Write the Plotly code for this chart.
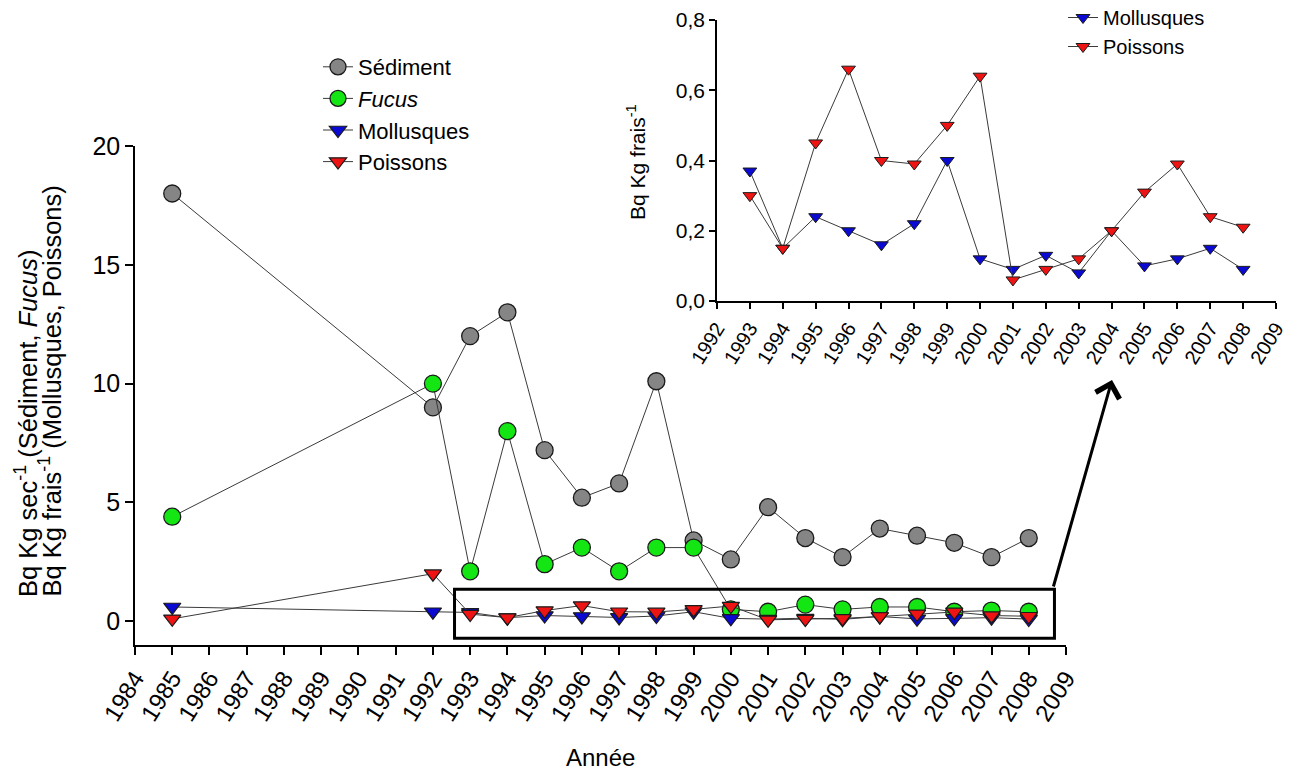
import plotly.graph_objects as go

# ---------------- data ----------------
years_main = [1985, 1992, 1993, 1994, 1995, 1996, 1997, 1998, 1999, 2000,
              2001, 2002, 2003, 2004, 2005, 2006, 2007, 2008]
sediment = [18.0, 9.0, 12.0, 13.0, 7.2, 5.2, 5.8, 10.1, 3.4, 2.6,
            4.8, 3.5, 2.7, 3.9, 3.6, 3.3, 2.7, 3.5]
fucus = [4.4, 10.0, 2.1, 8.0, 2.4, 3.1, 2.1, 3.1, 3.1, 0.5,
         0.4, 0.7, 0.5, 0.6, 0.6, 0.4, 0.45, 0.4]

years_inset = [1993, 1994, 1995, 1996, 1997, 1998, 1999, 2000,
               2001, 2002, 2003, 2004, 2005, 2006, 2007, 2008]
mollusques_inset = [0.37, 0.15, 0.24, 0.20, 0.16, 0.22, 0.40, 0.12,
                    0.09, 0.13, 0.08, 0.20, 0.10, 0.12, 0.15, 0.09]
poissons_inset = [0.30, 0.15, 0.45, 0.66, 0.40, 0.39, 0.50, 0.64,
                  0.06, 0.09, 0.12, 0.20, 0.31, 0.39, 0.24, 0.21]

mollusques_early = [0.6, 0.4]   # 1985, 1992
poissons_early = [0.1, 2.0]     # 1985, 1992
mollusques = mollusques_early + mollusques_inset
poissons = poissons_early + poissons_inset

main_xticks = list(range(1984, 2010))
inset_xticks = list(range(1992, 2010))
main_yticks = [0, 5, 10, 15, 20]
inset_yticks = [0.0, 0.2, 0.4, 0.6, 0.8]

# ---------------- style ----------------
W, H = 1301, 774
OFF = 8  # page body margin
FONT = "Liberation Sans, Arial, sans-serif"
GRAY = "#858585"
GREEN = "#14e614"
BLUE = "#0a0ad2"
RED = "#ee1414"
LINE = "#3a3a3a"
EDGE = "#1a1a1a"


def px_x(p):
    return (p - OFF) / W


def px_y(p):
    return 1 - (p - OFF) / H


fig = go.Figure()

fig.add_trace(go.Scatter(x=years_main, y=sediment, name="Sédiment", mode="lines+markers",
                         line=dict(color=LINE, width=1),
                         marker=dict(symbol="circle", size=17, color=GRAY, line=dict(color=EDGE, width=1.3)),
                         xaxis="x", yaxis="y", legend="legend"))
fig.add_trace(go.Scatter(x=years_main, y=fucus, name="<i>Fucus</i>", mode="lines+markers",
                         line=dict(color=LINE, width=1),
                         marker=dict(symbol="circle", size=17, color=GREEN, line=dict(color=EDGE, width=1.3)),
                         xaxis="x", yaxis="y", legend="legend"))
fig.add_trace(go.Scatter(x=years_main, y=mollusques, name="Mollusques", mode="lines+markers",
                         line=dict(color=LINE, width=1),
                         marker=dict(symbol="triangle-down", size=15, color=BLUE, line=dict(color=EDGE, width=1.2)),
                         xaxis="x", yaxis="y", legend="legend"))
fig.add_trace(go.Scatter(x=years_main, y=poissons, name="Poissons", mode="lines+markers",
                         line=dict(color=LINE, width=1),
                         marker=dict(symbol="triangle-down", size=15, color=RED, line=dict(color=EDGE, width=1.2)),
                         xaxis="x", yaxis="y", legend="legend"))

fig.add_trace(go.Scatter(x=years_inset, y=mollusques_inset, name="Mollusques", mode="lines+markers",
                         line=dict(color=LINE, width=1),
                         marker=dict(symbol="triangle-down", size=12, color=BLUE, line=dict(color=EDGE, width=1)),
                         xaxis="x2", yaxis="y2", legend="legend2"))
fig.add_trace(go.Scatter(x=years_inset, y=poissons_inset, name="Poissons", mode="lines+markers",
                         line=dict(color=LINE, width=1),
                         marker=dict(symbol="triangle-down", size=12, color=RED, line=dict(color=EDGE, width=1)),
                         xaxis="x2", yaxis="y2", legend="legend2"))

axis_common = dict(showline=True, linecolor="black", linewidth=1.5, ticks="outside",
                   tickcolor="black", tickwidth=1.5, showgrid=False, zeroline=False,
                   mirror=False, automargin=False)

fig.update_layout(
    width=W, height=H,
    margin=dict(l=0, r=0, t=0, b=0, autoexpand=False),
    paper_bgcolor="white", plot_bgcolor="rgba(0,0,0,0)",
    separators=", ",
    font=dict(family=FONT, color="black"),
    xaxis=dict(domain=[px_x(135), px_x(1066)], range=[1984, 2009], tickvals=main_xticks,
               tickangle=-58, ticklen=8, tickfont=dict(size=24), anchor="y", **axis_common),
    yaxis=dict(domain=[px_y(645), px_y(146)], range=[-1, 20], tickvals=main_yticks,
               ticklen=8, tickfont=dict(size=25), anchor="x", **axis_common),
    xaxis2=dict(domain=[px_x(717), px_x(1276)], range=[1992, 2009], tickvals=inset_xticks,
                tickangle=-58, ticklen=6, tickfont=dict(size=20), anchor="y2", **axis_common),
    yaxis2=dict(domain=[px_y(301), px_y(20)], range=[0, 0.8], tickvals=inset_yticks,
                tickformat=".1f", ticklen=6, tickfont=dict(size=21), anchor="x2", **axis_common),
    legend=dict(x=px_x(318), y=px_y(46), xanchor="left", yanchor="top",
                bgcolor="rgba(0,0,0,0)", font=dict(size=22)),
    legend2=dict(x=px_x(1063), y=px_y(-2), xanchor="left", yanchor="top",
                 bgcolor="rgba(0,0,0,0)", font=dict(size=20)),
    showlegend=True,
)

# y-axis titles as annotations (bottom aligned lines)
fig.add_annotation(xref="paper", yref="paper", x=px_x(26), y=px_y(599),
                   xanchor="center", yanchor="bottom", textangle=-90, showarrow=False,
                   text="Bq Kg sec<sup>-1</sup> (Sédiment, <i>Fucus</i>)", font=dict(size=25.5))
fig.add_annotation(xref="paper", yref="paper", x=px_x(50), y=px_y(599),
                   xanchor="center", yanchor="bottom", textangle=-90, showarrow=False,
                   text="Bq Kg frais<sup>-1</sup> (Mollusques, Poissons)", font=dict(size=25.5))
fig.add_annotation(xref="paper", yref="paper", x=px_x(636), y=px_y(162),
                   xanchor="center", yanchor="middle", textangle=-90, showarrow=False,
                   text="Bq Kg frais<sup>-1</sup>", font=dict(size=21))
fig.add_annotation(xref="paper", yref="paper", x=px_x(600), y=px_y(757),
                   xanchor="center", yanchor="middle", showarrow=False,
                   text="Année", font=dict(size=24))

# highlight box and arrow
fig.add_shape(type="rect", xref="x", yref="y", x0=1992.58, x1=2008.69, y0=-0.72, y1=1.35,
              line=dict(color="black", width=3), fillcolor="rgba(0,0,0,0)")
fig.add_annotation(xref="paper", yref="paper", x=px_x(1112), y=px_y(380),
                   ax=1053 - 1112, ay=588 - 380, axref="pixel", ayref="pixel",
                   text="", showarrow=True, arrowhead=4, arrowsize=1.6, arrowwidth=3,
                   arrowcolor="black")

fig.write_html("out.html")
